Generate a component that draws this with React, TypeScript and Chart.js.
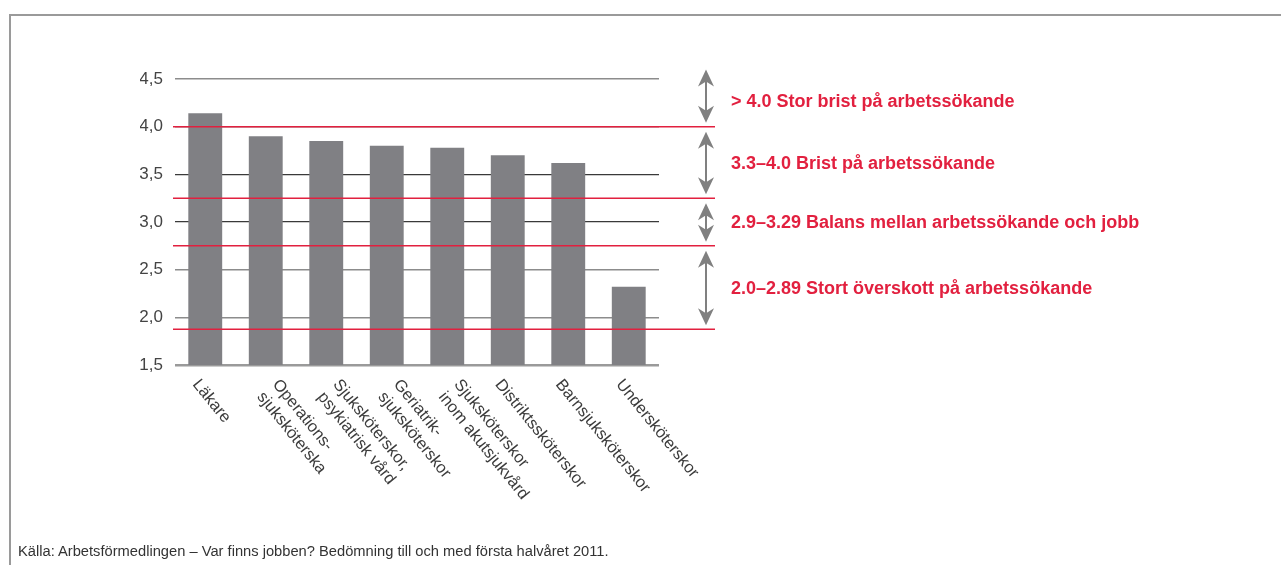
import React, { useEffect, useRef } from "react";
import { Chart, registerables } from "chart.js";

Chart.register(...registerables);

const categories: string[][] = [
  ["Läkare"],
  ["Operations-", "sjuksköterska"],
  ["Sjuksköterskor,", "psykiatrisk vård"],
  ["Geriatrik-", "sjuksköterskor"],
  ["Sjuksköterskor", "inom akutsjukvård"],
  ["Distriktssköterskor"],
  ["Barnsjuksköterskor"],
  ["Undersköterskor"],
];
const values = [4.14, 3.9, 3.85, 3.8, 3.78, 3.7, 3.62, 2.32];
const yTicks = [1.5, 2.0, 2.5, 3.0, 3.5, 4.0, 4.5];
const bandBounds = [4.63, 4.0, 3.25, 2.75, 1.875];
const bandLabels = [
  "> 4.0 Stor brist på arbetssökande",
  "3.3–4.0 Brist på arbetssökande",
  "2.9–3.29 Balans mellan arbetssökande och jobb",
  "2.0–2.89 Stort överskott på arbetssökande",
];
const sourceText =
  "Källa: Arbetsförmedlingen – Var finns jobben? Bedömning till och med första halvåret 2011.";

const RED = "#e2203f";
const FONT = "'Liberation Sans', Arial, Helvetica, sans-serif";

function drawArrow(ctx: CanvasRenderingContext2D, x: number, y0: number, y1: number) {
  const hl = 17;
  const hw = 8;
  const notch = 12;
  ctx.strokeStyle = "#808080";
  ctx.fillStyle = "#808080";
  ctx.lineWidth = 2;
  ctx.beginPath();
  ctx.moveTo(x, y0 + 8);
  ctx.lineTo(x, y1 - 8);
  ctx.stroke();
  ctx.beginPath();
  ctx.moveTo(x, y0);
  ctx.lineTo(x + hw, y0 + hl);
  ctx.lineTo(x, y0 + notch);
  ctx.lineTo(x - hw, y0 + hl);
  ctx.closePath();
  ctx.fill();
  ctx.beginPath();
  ctx.moveTo(x, y1);
  ctx.lineTo(x + hw, y1 - hl);
  ctx.lineTo(x, y1 - notch);
  ctx.lineTo(x - hw, y1 - hl);
  ctx.closePath();
  ctx.fill();
}

const overlayPlugin = {
  id: "overlay",
  afterDatasetsDraw(chart: any) {
    const ctx: CanvasRenderingContext2D = chart.ctx;
    const ys = chart.scales.y;
    const xs = chart.scales.x;
    const area = chart.chartArea;
    ctx.save();

    ctx.strokeStyle = RED;
    ctx.lineWidth = 1.5;
    bandBounds.slice(1).forEach((v) => {
      const py = ys.getPixelForValue(v);
      ctx.beginPath();
      ctx.moveTo(area.left - 2, py);
      ctx.lineTo(area.right + 56, py);
      ctx.stroke();
    });

    const ax = area.right + 47;
    for (let i = 0; i < bandLabels.length; i++) {
      const top = ys.getPixelForValue(bandBounds[i]);
      const bot = ys.getPixelForValue(bandBounds[i + 1]);
      drawArrow(ctx, ax, top + (i === 0 ? 3 : 5), bot - 4);
      ctx.fillStyle = RED;
      ctx.font = `bold 18px ${FONT}`;
      ctx.textAlign = "left";
      ctx.textBaseline = "middle";
      ctx.fillText(bandLabels[i], area.right + 72, (top + bot) / 2 + (i === 0 ? 5 : 1.5));
    }

    const ang = (51 * Math.PI) / 180;
    const fs = 16.5;
    const lh = 20;
    ctx.fillStyle = "#3c3c3c";
    ctx.font = `${fs}px ${FONT}`;
    ctx.textAlign = "left";
    ctx.textBaseline = "alphabetic";
    categories.forEach((lines, i) => {
      const cx = xs.getPixelForValue(i);
      const gx = cx + (lines.length > 1 ? 15.5 : -4);
      const gy = area.bottom + 12;
      const capH = fs * 0.72;
      const ox = gx - Math.sin(ang) * capH;
      const oy = gy + Math.cos(ang) * capH;
      lines.forEach((t, j) => {
        ctx.save();
        ctx.translate(ox - Math.sin(ang) * lh * j, oy + Math.cos(ang) * lh * j);
        ctx.rotate(ang);
        ctx.fillText(t, 0, 0);
        ctx.restore();
      });
    });

    ctx.restore();
  },
};

export default function App() {
  const ref = useRef<HTMLCanvasElement | null>(null);

  useEffect(() => {
    if (!ref.current) return;
    const chart = new Chart(ref.current, {
      type: "bar",
      data: {
        labels: categories.map((c) => c.join(" ")),
        datasets: [
          {
            data: values,
            backgroundColor: "#808084",
            borderWidth: 0,
            barPercentage: 0.56,
            categoryPercentage: 1,
          },
        ],
      },
      options: {
        responsive: false,
        animation: false,
        layout: { padding: { left: 140, right: 622, top: 79, bottom: 200 } },
        plugins: { legend: { display: false }, tooltip: { enabled: false } },
        scales: {
          x: {
            grid: { display: false },
            border: { display: false },
            ticks: { display: false },
            afterFit: (s: any) => {
              s.height = 0;
            },
          },
          y: {
            min: 1.5,
            max: 4.5,
            afterBuildTicks: (s: any) => {
              s.ticks = yTicks.map((v) => ({ value: v }));
            },
            afterFit: (s: any) => {
              s.width = 35;
            },
            border: { display: false },
            grid: {
              drawTicks: false,
              color: (c: any) => {
                const v = c.tick ? c.tick.value : 0;
                if (v === 1.5) return "#9a9a9a";
                if (v === 3.0 || v === 3.5) return "#3a3a3a";
                return "#8c8c8c";
              },
              lineWidth: (c: any) => {
                const v = c.tick ? c.tick.value : 0;
                if (v === 1.5) return 2.5;
                if (v === 3.0 || v === 3.5) return 1.2;
                return 1.6;
              },
            },
            ticks: {
              padding: 12,
              color: "#444",
              font: { family: FONT, size: 17 },
              callback: (v: any) => Number(v).toFixed(1).replace(".", ","),
            },
          },
        },
      },
      plugins: [overlayPlugin],
    });
    return () => chart.destroy();
  }, []);

  return (
    <div
      style={{
        position: "fixed",
        left: 0,
        top: 0,
        width: 1281,
        height: 565,
        background: "#fff",
        overflow: "hidden",
      }}
    >
      <div
        style={{
          position: "absolute",
          left: 9,
          top: 14,
          width: 1290,
          height: 600,
          borderTop: "2px solid #9a9a9a",
          borderLeft: "2px solid #9a9a9a",
          boxSizing: "border-box",
        }}
      />
      <canvas
        ref={ref}
        width={1281}
        height={565}
        style={{ position: "absolute", left: 0, top: 0, width: 1281, height: 565 }}
      />
      <div
        style={{
          position: "absolute",
          left: 18,
          top: 542,
          fontFamily: FONT,
          fontSize: 14.7,
          color: "#333",
          whiteSpace: "nowrap",
          lineHeight: "18px",
        }}
      >
        {sourceText}
      </div>
    </div>
  );
}
